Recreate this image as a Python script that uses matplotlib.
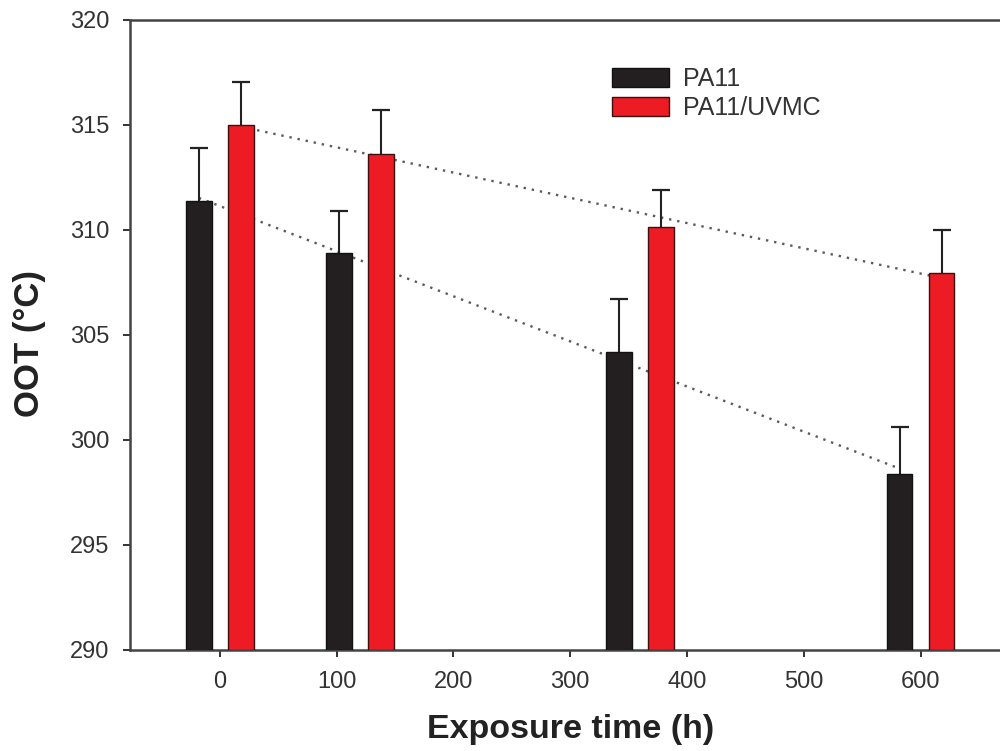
import numpy as np
import matplotlib
matplotlib.use("Agg")
import matplotlib.pyplot as plt
from matplotlib.patches import Patch

plt.rcParams['font.family'] = ['Liberation Sans', 'DejaVu Sans']

# Data
exposure = np.array([0, 120, 360, 600])
series_names = ["PA11", "PA11/UVMC"]
pa11 = np.array([311.4, 308.9, 304.2, 298.4])
pa11_err = np.array([2.5, 2.0, 2.5, 2.2])
uvmc = np.array([315.0, 313.6, 310.15, 307.95])
uvmc_err = np.array([2.05, 2.1, 1.75, 2.05])
xticks = [0, 100, 200, 300, 400, 500, 600]
yticks = [290, 295, 300, 305, 310, 315, 320]

offset = 18
width = 22
black = '#231F20'
red = '#ED1C24'

fig = plt.figure(figsize=(10, 7.51), dpi=100)
ax = fig.add_axes([0.13, 0.1345, 0.87, 0.8389])

x1 = exposure - offset
x2 = exposure + offset

# trend lines (linear regression of each series)
for xs, ys in ((x1, pa11), (x2, uvmc)):
    p = np.polyfit(xs, ys, 1)
    ax.plot([xs[0], xs[-1]], np.polyval(p, [xs[0], xs[-1]]),
            linestyle=(0, (1, 2.5)), color='#5a5a5a', lw=1.7, zorder=1)

ax.bar(x1, pa11 - 290, width=width, bottom=290, color=black, edgecolor='#111111',
       lw=1, zorder=3)
ax.bar(x2, uvmc - 290, width=width, bottom=290, color=red, edgecolor='#3a1010',
       lw=1, zorder=3)
for xs, ys, es in ((x1, pa11, pa11_err), (x2, uvmc, uvmc_err)):
    eb = ax.errorbar(xs, ys, yerr=[np.zeros_like(es), es], fmt='none',
                     ecolor='#222222', elinewidth=1.5, capsize=6.5, capthick=1.6,
                     zorder=2)
    eb[1][0].set_visible(False)

ax.set_xlim(-77, 668)
ax.set_ylim(290, 320)
ax.set_xticks(xticks)
ax.set_yticks(yticks)
ax.tick_params(direction='out', length=5, width=1.4, color='#333333',
               labelsize=17, labelcolor='#333333')
ax.tick_params(axis='x', pad=10)
ax.tick_params(axis='y', pad=10)
for s in ('left', 'bottom', 'top'):
    ax.spines[s].set_linewidth(1.8)
    ax.spines[s].set_color('#444444')
ax.spines['right'].set_visible(False)

ax.set_xlabel("Exposure time (h)", fontsize=24.5, fontweight='bold', color='#222222')
ax.xaxis.set_label_coords(0.507, -0.102)
ax.set_ylabel("OOT (°C)", fontsize=25, fontweight='bold', color='#222222')
ax.yaxis.set_label_coords(-0.096, 0.487)

handles = [Patch(facecolor=black, edgecolor='#111111'),
           Patch(facecolor=red, edgecolor='#3a1010')]
ax.legend(handles, series_names, loc='upper left', bbox_to_anchor=(0.554, 0.925),
          frameon=False, fontsize=18, handlelength=2.3, handleheight=0.75,
          handletextpad=0.55, labelspacing=0.2, borderpad=0, borderaxespad=0,
          labelcolor='#333333')

fig.savefig("out.png", dpi=100)
